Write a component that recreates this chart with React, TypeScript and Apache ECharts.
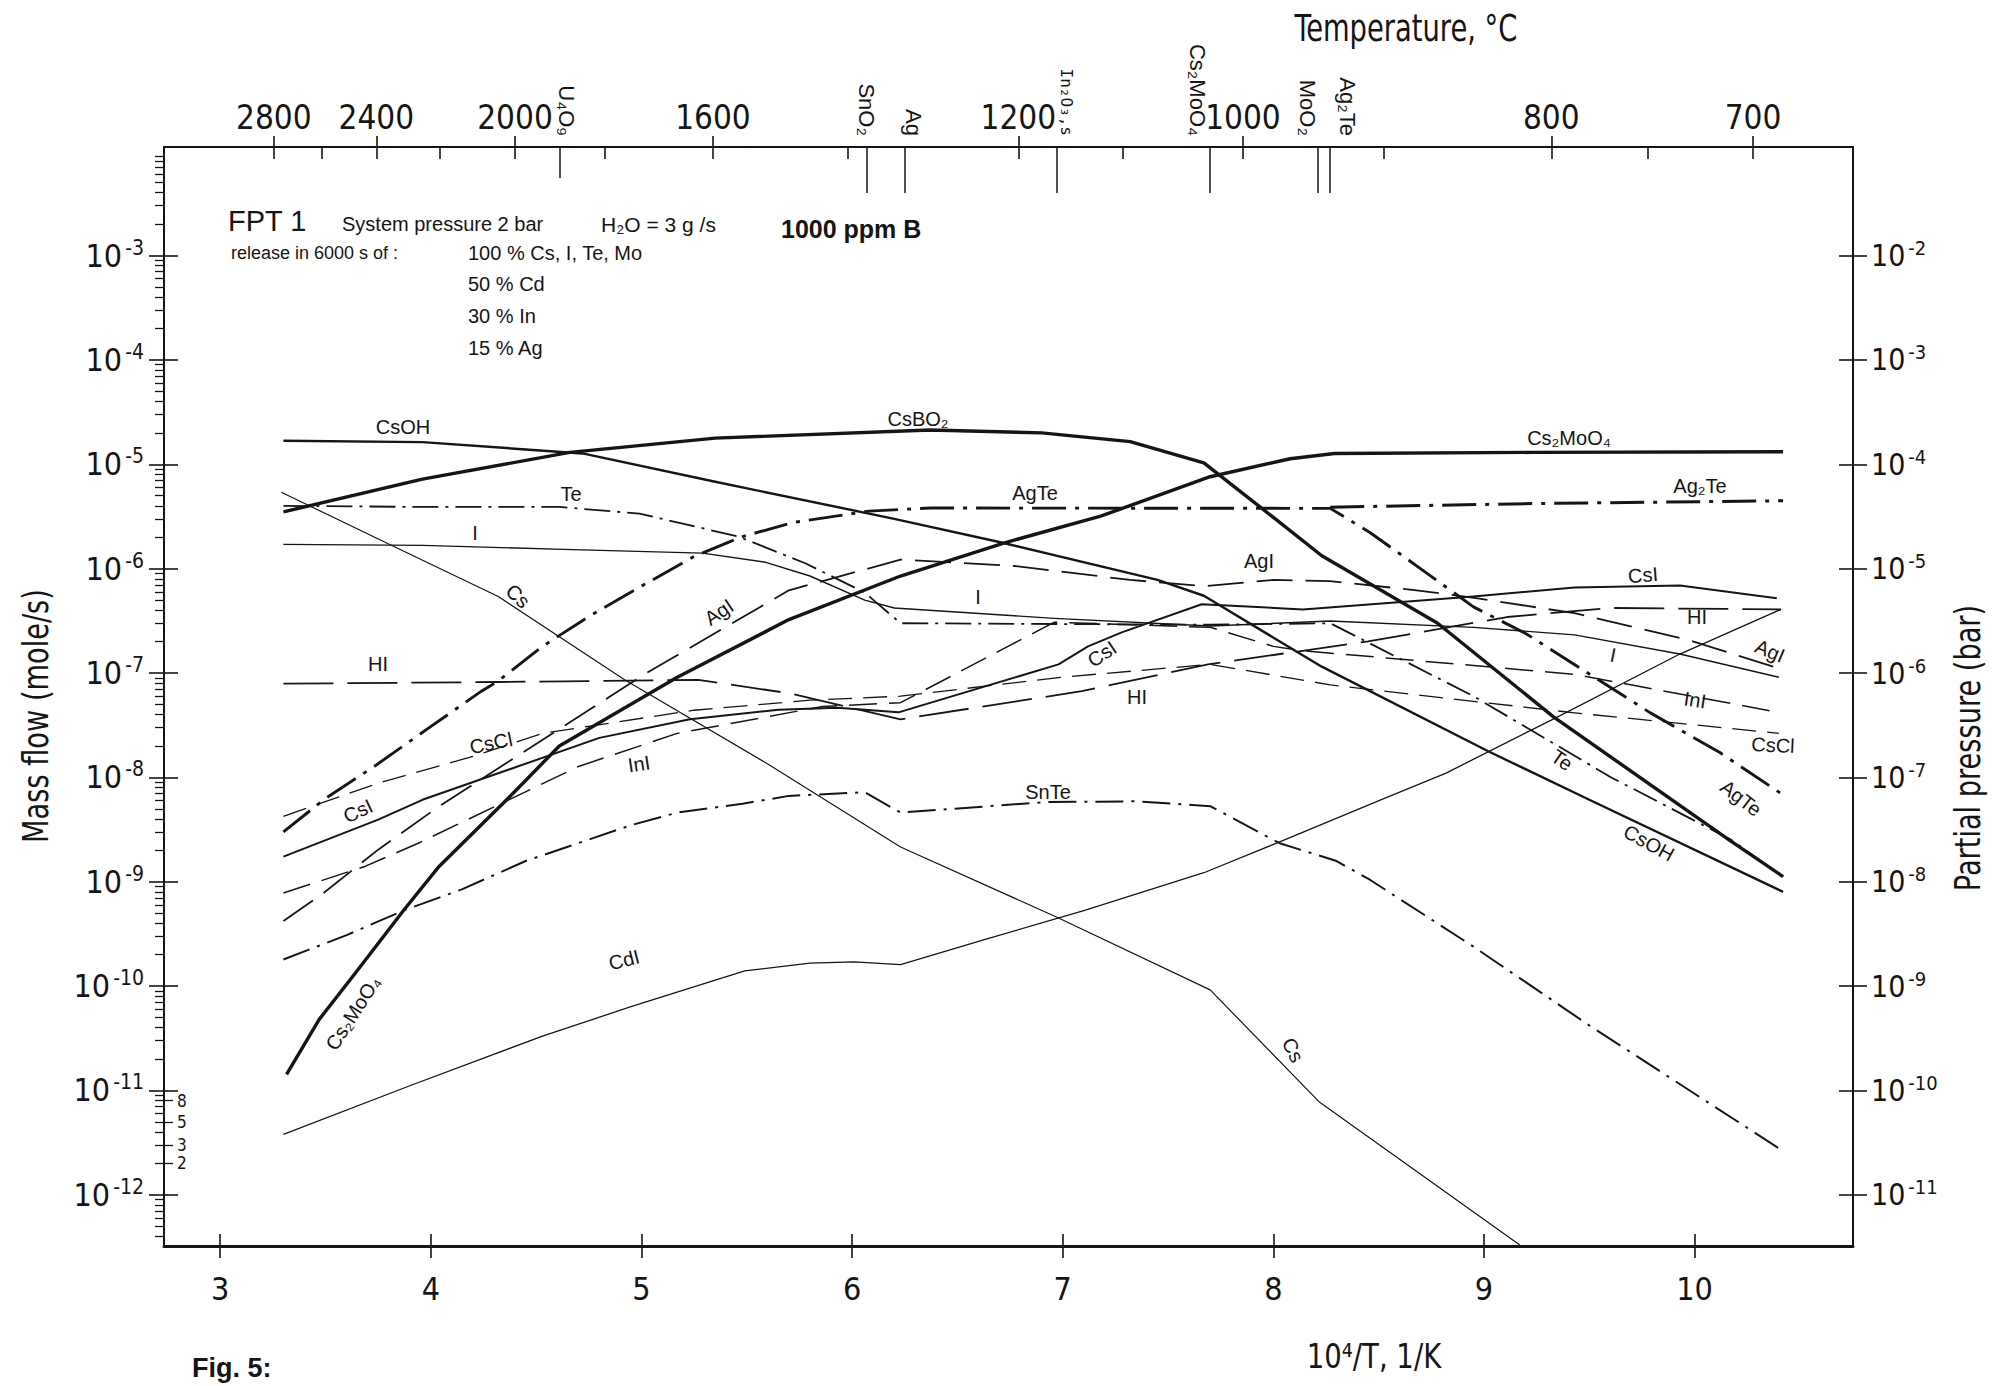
import React, { useEffect, useRef } from "react";
import * as echarts from "echarts";

// ---------------- axis ticks and labels ----------------
const xTickValues = [3, 4, 5, 6, 7, 8, 9, 10]; // 10^4/T, 1/K
const massFlowDecades = [-12, -11, -10, -9, -8, -7, -6, -5, -4, -3]; // log10(mole/s)
const pressureDecadeShift = 1; // partial pressure (bar) axis reads one decade higher
const minorFactors = [2, 3, 4, 5, 6, 7, 8, 9];
const smallScaleFactors = [2, 3, 5, 8]; // little scale under 10^-11
const temperatureMajor = [2800, 2400, 2000, 1600, 1200, 1000, 800, 700]; // °C
const temperatureMinor = [2600, 2200, 1800, 1400, 1100, 900, 750];
const markerNames = ["U₄O₉", "SnO₂", "Ag", "In₂O₃,s", "Cs₂MoO₄", "MoO₂", "Ag₂Te"];
const markerX = [4.61, 6.07, 6.25, 6.97, 7.7, 8.21, 8.27];

const X_MIN = 2.733;
const X_MAX = 10.752;
const Y_MIN = -12.49; // log10 of mass flow
const Y_MAX = -1.96;

// ---------------- series: [10^4/T, mole/s] ----------------
const csoh = [[3.3, 1.68e-5], [3.96, 1.63e-5], [4.72, 1.27e-5], [5.35, 6.8e-6], [6.2, 3.0e-6], [6.72, 1.76e-6], [7.45, 7.8e-7], [7.67, 5.5e-7], [8.23, 1.15e-7], [9.02, 1.78e-8], [9.5, 6.1e-9], [10.42, 8.0e-10]];
const csbo2 = [[3.3, 3.5e-6], [3.96, 7.2e-6], [4.66, 1.3e-5], [5.35, 1.78e-5], [6.37, 2.13e-5], [6.9, 2.0e-5], [7.32, 1.65e-5], [7.67, 1.03e-5], [8.0, 3.1e-6], [8.23, 1.33e-6], [8.78, 3.0e-7], [9.33, 3.8e-8], [10.16, 2.55e-9], [10.42, 1.12e-9]];
const cs2moo4 = [[3.315, 1.43e-11], [3.47, 4.8e-11], [3.64, 1.32e-10], [3.87, 5.3e-10], [4.04, 1.41e-9], [4.36, 6.1e-9], [4.61, 2.0e-8], [5.17, 9.1e-8], [5.7, 3.25e-7], [6.23, 8.5e-7], [6.72, 1.76e-6], [7.18, 3.18e-6], [7.7, 7.6e-6], [8.08, 1.13e-5], [8.29, 1.27e-5], [9.23, 1.3e-5], [10.42, 1.32e-5]];
const te = [[3.3, 4.0e-6], [3.96, 3.9e-6], [4.61, 3.9e-6], [4.99, 3.37e-6], [5.46, 2.03e-6], [5.78, 1.12e-6], [6.06, 5.9e-7], [6.23, 3.0e-7], [7.7, 2.9e-7], [8.27, 3.0e-7], [8.95, 6.0e-8], [9.6, 1.01e-8], [10.17, 2.55e-9], [10.42, 1.12e-9]];
const agte = [[3.3, 3.0e-9], [3.5, 6.3e-9], [3.73, 1.27e-8], [3.98, 2.88e-8], [4.24, 6.7e-8], [4.32, 8.4e-8], [4.53, 1.8e-7], [4.75, 3.48e-7], [5.0, 6.8e-7], [5.25, 1.31e-6], [5.48, 2.03e-6], [5.72, 2.77e-6], [6.08, 3.56e-6], [6.37, 3.81e-6], [8.27, 3.78e-6], [8.46, 2.21e-6], [8.69, 1.03e-6], [8.95, 4.3e-7], [9.2, 2.38e-7], [9.79, 4.15e-8], [10.12, 1.73e-8], [10.42, 6.8e-9]];
const ag2te = [[8.27, 3.88e-6], [9.23, 4.2e-6], [10.42, 4.47e-6]];
const iodine = [[3.3, 1.71e-6], [3.96, 1.67e-6], [4.63, 1.53e-6], [5.29, 1.41e-6], [5.59, 1.15e-6], [5.8, 8.5e-7], [6.06, 5.0e-7], [6.2, 4.2e-7], [6.96, 3.34e-7], [7.7, 2.82e-7], [8.27, 3.15e-7], [8.95, 2.74e-7], [9.43, 2.32e-7], [9.93, 1.52e-7], [10.4, 9.1e-8]];
const cs = [[3.29, 5.4e-6], [3.79, 1.76e-6], [4.32, 5.4e-7], [4.92, 8.6e-8], [5.59, 1.38e-8], [6.23, 2.15e-9], [6.97, 4.6e-10], [7.7, 9.2e-11], [8.22, 7.7e-12], [9.17, 3.3e-13]];
const agi = [[3.3, 4.2e-10], [3.49, 7.8e-10], [3.75, 2.03e-9], [4.04, 5.3e-9], [5.02, 9.9e-8], [5.7, 6.2e-7], [6.23, 1.22e-6], [6.77, 1.06e-6], [7.32, 7.8e-7], [7.67, 6.8e-7], [8.0, 7.8e-7], [8.27, 7.6e-7], [8.68, 6.2e-7], [8.97, 5.2e-7], [9.43, 3.74e-7], [9.97, 2.07e-7], [10.4, 1.11e-7]];
const ini = [[3.3, 7.8e-10], [3.69, 1.41e-9], [3.94, 2.34e-9], [4.7, 1.27e-8], [5.17, 2.64e-8], [5.86, 4.78e-8], [6.23, 5.2e-8], [6.96, 3.07e-7], [7.7, 2.74e-7], [8.0, 1.8e-7], [8.12, 1.65e-7], [9.43, 9.7e-8], [10.38, 4.27e-8]];
const cscl = [[3.3, 4.24e-9], [3.75, 8.8e-9], [4.2, 1.59e-8], [4.53, 2.64e-8], [5.25, 4.4e-8], [5.8, 5.5e-8], [6.23, 6.0e-8], [6.99, 9.1e-8], [7.7, 1.21e-7], [8.27, 7.7e-8], [9.43, 4.15e-8], [10.4, 2.64e-8]];
const csi = [[3.3, 1.74e-9], [3.75, 3.94e-9], [3.96, 6.1e-9], [4.8, 2.39e-8], [5.23, 3.6e-8], [5.65, 4.44e-8], [5.93, 4.65e-8], [6.22, 4.2e-8], [6.98, 1.21e-7], [7.12, 1.8e-7], [7.28, 2.45e-7], [7.66, 4.56e-7], [8.14, 4.07e-7], [8.95, 5.4e-7], [9.43, 6.6e-7], [9.93, 6.9e-7], [10.39, 5.2e-7]];
const hi = [[3.3, 7.9e-8], [4.32, 8.2e-8], [5.27, 8.6e-8], [5.7, 6.4e-8], [6.23, 3.6e-8], [7.09, 6.7e-8], [7.69, 1.21e-7], [8.45, 2.01e-7], [9.11, 3.44e-7], [9.6, 4.2e-7], [10.41, 4.07e-7]];
const snte = [[3.3, 1.8e-10], [3.6, 3.08e-10], [3.87, 5.3e-10], [4.15, 8.5e-10], [4.45, 1.58e-9], [4.95, 3.48e-9], [5.17, 4.6e-9], [5.48, 5.6e-9], [5.7, 6.65e-9], [6.06, 7.2e-9], [6.23, 4.6e-9], [6.92, 5.8e-9], [7.35, 5.9e-9], [7.7, 5.3e-9], [8.03, 2.34e-9], [8.3, 1.58e-9], [8.46, 1.04e-9], [8.95, 2.39e-10], [9.5, 4.2e-11], [10.42, 2.63e-12]];
const cdi = [[3.3, 3.8e-12], [3.9, 1.11e-11], [4.53, 3.32e-11], [4.95, 6.35e-11], [5.49, 1.4e-10], [5.8, 1.66e-10], [6.01, 1.71e-10], [6.23, 1.61e-10], [6.64, 2.83e-10], [7.1, 5.3e-10], [7.67, 1.22e-9], [8.03, 2.41e-9], [8.51, 6.1e-9], [8.82, 1.1e-8], [9.35, 3.8e-8], [9.93, 1.52e-7], [10.41, 4.07e-7]];

// ---------------- styling ----------------
const INK = "#151515";
const NARROW = "'Liberation Sans Narrow', 'DejaVu Sans Condensed', 'Roboto Condensed', 'Liberation Sans', sans-serif";
const SANS = "'Liberation Sans', Arial, 'Noto Sans', sans-serif";
const MONO = "'DejaVu Sans Mono', 'Liberation Mono', monospace";

const seriesStyles: Array<[string, number[][], number, any]> = [
  ["CsOH", csoh, 2.4, "solid"],
  ["CsBO₂", csbo2, 3.4, "solid"],
  ["Cs₂MoO₄", cs2moo4, 3.4, "solid"],
  ["Te", te, 1.8, [26, 7, 3, 7]],
  ["AgTe", agte, 2.9, [34, 9, 4, 9]],
  ["Ag₂Te", ag2te, 3.0, [34, 9, 4, 9]],
  ["I", iodine, 1.4, "solid"],
  ["Cs", cs, 1.2, "solid"],
  ["AgI", agi, 1.8, [36, 13]],
  ["InI", ini, 1.5, [28, 12]],
  ["CsCl", cscl, 1.3, [24, 11]],
  ["CsI", csi, 2.0, "solid"],
  ["HI", hi, 1.8, [50, 14]],
  ["SnTe", snte, 2.0, [28, 8, 3, 8]],
  ["CdI", cdi, 1.3, "solid"],
];

const markerLabelDx = [0.035, 0, 0.04, 0.05, -0.06, -0.05, 0.08];

const curveLabels = [
  { t: "CsOH", x: 403, y: 427, r: 0 },
  { t: "CsBO₂", x: 918, y: 419, r: 0 },
  { t: "Cs₂MoO₄", x: 1569, y: 438, r: 0 },
  { t: "Te", x: 571, y: 494, r: 0 },
  { t: "AgTe", x: 1035, y: 493, r: 0 },
  { t: "Ag₂Te", x: 1700, y: 486, r: 0 },
  { t: "I", x: 475, y: 533, r: 0 },
  { t: "I", x: 978, y: 597, r: 0 },
  { t: "I", x: 1613, y: 655, r: -0.2 },
  { t: "Cs", x: 518, y: 596, r: -0.75 },
  { t: "Cs", x: 1293, y: 1050, r: -1.1 },
  { t: "AgI", x: 719, y: 612, r: 0.6 },
  { t: "AgI", x: 1259, y: 561, r: 0 },
  { t: "AgI", x: 1770, y: 651, r: -0.4 },
  { t: "HI", x: 378, y: 664, r: 0 },
  { t: "HI", x: 1137, y: 697, r: 0 },
  { t: "HI", x: 1697, y: 617, r: 0 },
  { t: "CsCl", x: 491, y: 743, r: 0.2 },
  { t: "CsCl", x: 1773, y: 745, r: -0.05 },
  { t: "CsI", x: 358, y: 811, r: 0.45 },
  { t: "CsI", x: 1102, y: 654, r: 0.6 },
  { t: "CsI", x: 1643, y: 575, r: 0.08 },
  { t: "InI", x: 639, y: 764, r: 0.15 },
  { t: "InI", x: 1695, y: 700, r: -0.15 },
  { t: "Te", x: 1562, y: 760, r: -0.6 },
  { t: "AgTe", x: 1741, y: 798, r: -0.65 },
  { t: "CsOH", x: 1649, y: 843, r: -0.5 },
  { t: "SnTe", x: 1048, y: 792, r: 0 },
  { t: "CdI", x: 624, y: 960, r: 0.25 },
  { t: "Cs₂MoO₄", x: 353, y: 1013, r: 1.0 },
];

function plainText(text: string, x: number, y: number, fontSize: number, extra: any = {}) {
  return {
    type: "text", x, y, silent: true, z: 100,
    ...(extra.el || {}),
    style: {
      text, fontSize, fontFamily: extra.fontFamily || SANS, fontWeight: extra.fontWeight || "normal", fill: INK,
      align: extra.align || "left", textAlign: extra.align || "left",
      verticalAlign: extra.va || "middle", textVerticalAlign: extra.va || "middle",
    },
  };
}

function buildOption() {
  const tMajorX = temperatureMajor.map((t) => 1e4 / (t + 273));
  const tMinorX = temperatureMinor.map((t) => 1e4 / (t + 273));
  const markerLabelX = markerX.map((x, i) => x + markerLabelDx[i]);

  const minorY: number[] = [];
  [massFlowDecades[0] - 1, ...massFlowDecades].forEach((d) =>
    minorFactors.forEach((f) => {
      const v = d + Math.log10(f);
      if (v > Y_MIN && v < Y_MAX) minorY.push(v);
    })
  );
  const smallScaleY = smallScaleFactors.map((f) => massFlowDecades[0] + Math.log10(f));

  const tickLine = { color: INK, width: 1.6 };
  const xBase: any = {
    type: "value", min: X_MIN, max: X_MAX, silent: true,
    splitLine: { show: false },
    axisLine: { show: false, onZero: false },
    axisTick: { show: false },
    axisLabel: { show: false },
  };
  const yBase: any = {
    type: "value", min: Y_MIN, max: Y_MAX, silent: true,
    splitLine: { show: false },
    axisLine: { show: false, onZero: false },
    axisTick: { show: false },
    axisLabel: { show: false },
  };
  const powRich = (b: number, e: number, pad: number) => ({
    b: { fontSize: b, fontFamily: NARROW, color: INK },
    e: { fontSize: e, fontFamily: NARROW, color: INK, padding: [0, 0, pad, 3] },
  });

  const nearestMarker = (v: number) => {
    let best = 0;
    markerLabelX.forEach((x, i) => {
      if (Math.abs(x - v) < Math.abs(markerLabelX[best] - v)) best = i;
    });
    return best;
  };

  return {
    animation: false,
    backgroundColor: "#ffffff",
    grid: { left: 164, right: 151, top: 147, bottom: 140, containLabel: false, outerBoundsMode: "none" },
    xAxis: [
      {
        ...xBase, position: "bottom",
        axisLine: { show: true, onZero: false, lineStyle: { color: INK, width: 3 } },
        axisTick: { show: true, inside: false, length: 12, customValues: xTickValues, lineStyle: tickLine },
        axisLabel: {
          show: true, customValues: xTickValues, margin: 27, fontSize: 32, fontFamily: NARROW, color: INK,
          formatter: (v: number) => String(Math.round(v)),
        },
      },
      { ...xBase, position: "bottom", axisTick: { show: true, inside: true, length: 12, customValues: xTickValues, lineStyle: tickLine } },
      {
        ...xBase, position: "top",
        axisLine: { show: true, onZero: false, lineStyle: { color: INK, width: 2 } },
        axisTick: { show: true, inside: false, length: 11, customValues: tMajorX, lineStyle: tickLine },
        axisLabel: {
          show: true, customValues: tMajorX, margin: 13, fontSize: 33, fontFamily: NARROW, color: INK,
          formatter: (v: number) => String(Math.round(1e4 / v - 273)),
        },
      },
      { ...xBase, position: "top", axisTick: { show: true, inside: true, length: 12, customValues: [...tMajorX, ...tMinorX], lineStyle: tickLine } },
      { ...xBase, position: "top", axisTick: { show: true, inside: true, length: 46, customValues: markerX.slice(1), lineStyle: { color: INK, width: 1.5 } } },
      { ...xBase, position: "top", axisTick: { show: true, inside: true, length: 31, customValues: markerX.slice(0, 1), lineStyle: { color: INK, width: 1.5 } } },
      {
        ...xBase, position: "top",
        axisLabel: {
          show: true, customValues: markerLabelX, rotate: 90, margin: 11,
          formatter: (v: number) => {
            const i = nearestMarker(v);
            return i === 3 ? `{m|${markerNames[i]}}` : `{n|${markerNames[i]}}`;
          },
          rich: {
            n: { fontSize: 22, fontFamily: SANS, color: INK },
            m: { fontSize: 16, fontFamily: MONO, color: INK },
          },
        },
      },
    ],
    yAxis: [
      {
        ...yBase, position: "left",
        axisLine: { show: true, onZero: false, lineStyle: { color: INK, width: 2 } },
        axisTick: { show: true, inside: false, length: 15, customValues: massFlowDecades, lineStyle: tickLine },
        axisLabel: {
          show: true, customValues: massFlowDecades, margin: 20,
          formatter: (v: number) => `{b|10}{e|${Math.round(v)}}`,
          rich: powRich(32, 21, 16),
        },
      },
      { ...yBase, position: "left", axisTick: { show: true, inside: true, length: 14, customValues: massFlowDecades, lineStyle: tickLine } },
      { ...yBase, position: "left", axisTick: { show: true, inside: false, length: 9, customValues: minorY, lineStyle: { color: INK, width: 1.3 } } },
      {
        ...yBase, position: "left",
        axisTick: { show: true, inside: true, length: 9, customValues: smallScaleY, lineStyle: { color: INK, width: 1.3 } },
        axisLabel: {
          show: true, inside: true, customValues: smallScaleY, margin: 13, fontSize: 17, fontFamily: NARROW, color: INK,
          formatter: (v: number) => String(Math.round(Math.pow(10, v - massFlowDecades[0]))),
        },
      },
      {
        ...yBase, position: "right",
        axisLine: { show: true, onZero: false, lineStyle: { color: INK, width: 2 } },
        axisTick: { show: true, inside: false, length: 14, customValues: massFlowDecades, lineStyle: tickLine },
        axisLabel: {
          show: true, customValues: massFlowDecades, margin: 18,
          formatter: (v: number) => `{b|10}{e|${Math.round(v) + pressureDecadeShift}}`,
          rich: powRich(30, 20, 15),
        },
      },
      { ...yBase, position: "right", axisTick: { show: true, inside: true, length: 14, customValues: massFlowDecades, lineStyle: tickLine } },
    ],
    series: seriesStyles.map(([name, data, width, type]) => ({
      type: "line",
      name,
      xAxisIndex: 0,
      yAxisIndex: 0,
      data: data.map(([x, v]) => [x, Math.log10(v)]),
      showSymbol: false,
      symbol: "none",
      silent: true,
      clip: true,
      lineStyle: { color: INK, width, type, cap: "butt", join: "round" },
    })),
    graphic: [
      ...curveLabels.map((l) => ({
        type: "text", x: l.x, y: l.y, rotation: l.r, silent: true, z: 100,
        style: { text: l.t, fontSize: 20, fontFamily: SANS, fill: INK, align: "center", verticalAlign: "middle", textAlign: "center", textVerticalAlign: "middle" },
      })),
      plainText("FPT 1", 228, 221, 29),
      plainText("System pressure 2 bar", 342, 224, 20),
      plainText("H₂O = 3 g /s", 601, 224, 21),
      plainText("1000 ppm B", 781, 229, 25, { fontWeight: "bold" }),
      plainText("release in 6000 s of :", 231, 253, 18),
      plainText("100 % Cs, I, Te, Mo", 468, 253, 20),
      plainText("50 % Cd", 468, 284, 20),
      plainText("30 % In", 468, 316, 20),
      plainText("15 % Ag", 468, 348, 20),
      plainText("Temperature, °C", 1406, 28, 38, { fontFamily: NARROW, align: "center", el: { scaleX: 0.8 } }),
      plainText("10⁴/T, 1/K", 1374, 1356, 34, { fontFamily: NARROW, align: "center", el: { scaleX: 0.9 } }),
      plainText("Mass flow (mole/s)", 36, 716, 36, { fontFamily: NARROW, align: "center", el: { rotation: Math.PI / 2, scaleX: 0.84 } }),
      plainText("Partial pressure (bar)", 1968, 748, 36, { fontFamily: NARROW, align: "center", el: { rotation: Math.PI / 2, scaleX: 0.84 } }),
      plainText("Fig. 5:", 192, 1354, 27, { fontWeight: "bold", va: "top" }),
    ],
  };
}

export default function App() {
  const ref = useRef<HTMLDivElement>(null);
  useEffect(() => {
    if (!ref.current) return;
    const chart = echarts.init(ref.current, null, { renderer: "svg" });
    chart.setOption(buildOption() as any);
    return () => chart.dispose();
  }, []);
  return (
    <div
      ref={ref}
      style={{ position: "fixed", left: 0, top: 0, width: 2004, height: 1386, background: "#fff" }}
    />
  );
}
